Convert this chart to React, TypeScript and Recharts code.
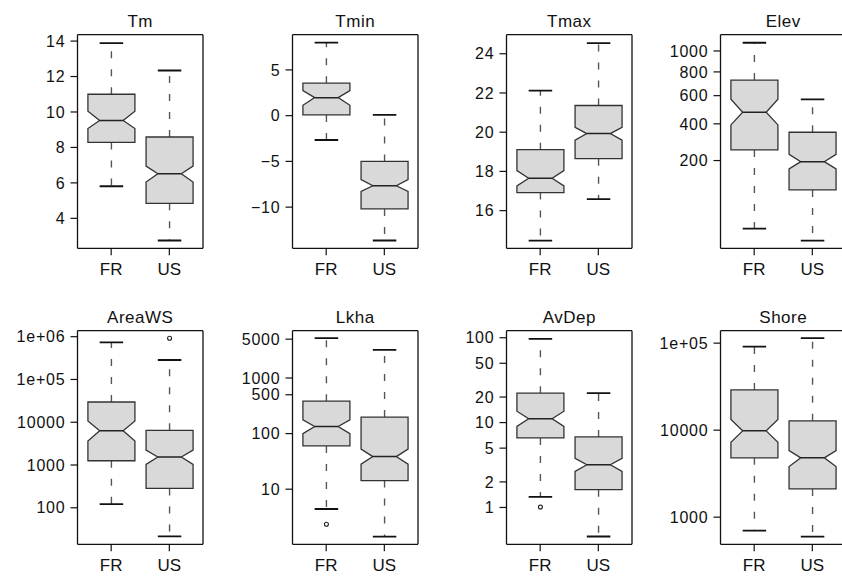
import { Bar, ComposedChart, XAxis, YAxis } from 'recharts'

const GROUPS = ['FR', 'US']

// box stats, in order: lower whisker, Q1, notch low, median, notch high, Q3, upper whisker
const tmFR = [5.81, 8.28, 9.07, 9.52, 10.04, 11.0, 13.89]
const tmUS = [2.75, 4.85, 6.05, 6.52, 6.95, 8.59, 12.34]
const tminFR = [-2.66, 0.08, 1.14, 1.97, 2.74, 3.55, 7.98]
const tminUS = [-13.65, -10.2, -8.28, -7.66, -7.0, -5.0, 0.08]
const tmaxFR = [14.47, 16.92, 17.26, 17.65, 18.04, 19.11, 22.12]
const tmaxUS = [16.59, 18.65, 19.59, 19.93, 20.25, 21.36, 24.54]
const elevFR = [10.8, 251, 393, 477, 572, 728, 1085]
const elevUS = [1.86, 89.3, 164, 195, 229, 348, 572]
const areaFR = [122, 1259, 3630, 6320, 10670, 29700, 740000]
const areaUS = [21.4, 284, 1035, 1535, 2240, 6460, 285000]
const lkhaFR = [4.4, 60, 100, 134, 177, 383, 5210]
const lkhaUS = [1.4, 14.3, 28.2, 38.6, 52.5, 198, 3210]
const avdepFR = [1.33, 6.6, 9.0, 11.1, 13.6, 22.2, 97]
const avdepUS = [0.455, 1.62, 2.66, 3.19, 3.79, 6.78, 22.2]
const shoreFR = [702, 4810, 7280, 9820, 13240, 29000, 91400]
const shoreUS = [598, 2110, 3820, 4810, 5830, 12790, 114000]

// outliers
const areaOutUS = [920000]
const lkhaOutFR = [2.34]
const avdepOutFR = [1.01]

// axis ranges and ticks
const tmDomain = [2.31, 14.36]
const tminDomain = [-14.5, 8.85]
const tmaxDomain = [14.08, 24.97]
const elevDomain = [0.02, 1171]
const areaDomain = [14, 1.38e6]
const lkhaDomain = [1.02, 7100]
const avdepDomain = [0.368, 121]
const shoreDomain = [488, 1.39e5]

const tmTicks = [4, 6, 8, 10, 12, 14]
const tminTicks = [-10, -5, 0, 5]
const tminLabels = ['\u221210', '\u22125', '0', '5']
const tmaxTicks = [16, 18, 20, 22, 24]
const elevTicks = [200, 400, 600, 800, 1000]
const areaTicks = [100, 1000, 10000, 100000, 1000000]
const areaLabels = ['100', '1000', '10000', '1e+05', '1e+06']
const lkhaTicks = [10, 100, 500, 1000, 5000]
const avdepTicks = [1, 2, 5, 10, 20, 50, 100]
const shoreTicks = [1000, 10000, 100000]
const shoreLabels = ['1000', '10000', '1e+05']

type Kind = 'linear' | 'sqrt' | 'log'
type Row = { group: string; stats: number[]; out: number[] }

const INK = '#111'
const FONT = '"Liberation Sans", Arial, Helvetica, sans-serif'

const transform = (kind: Kind) =>
  kind === 'log'
    ? (v: number) => Math.log10(v)
    : kind === 'sqrt'
      ? (v: number) => Math.sqrt(v)
      : (v: number) => v

const extent = (r: Row) => {
  const all = [...r.stats, ...r.out]
  return [Math.min(...all), Math.max(...all)]
}

const rows = (fr: number[], us: number[], outFR: number[] = [], outUS: number[] = []): Row[] => [
  { group: GROUPS[0], stats: fr, out: outFR },
  { group: GROUPS[1], stats: us, out: outUS },
]

// the bar spans the full extent; inner marks are placed along the same axis scale
function makeBox(kind: Kind) {
  const f = transform(kind)
  return (props: any) => {
    const { x, y, width, height, payload } = props
    const [lo, hi] = extent(payload)
    const py = (v: number) => y + ((f(hi) - f(v)) / (f(hi) - f(lo))) * height
    const [wlo, q1, nlo, med, nhi, q3, whi] = payload.stats.map(py)
    const cx = x + width / 2
    const x2 = x + width
    const nw = width / 4
    const pts = [
      [x, q1], [x2, q1], [x2, nlo], [cx + nw, med], [x2, nhi],
      [x2, q3], [x, q3], [x, nhi], [cx - nw, med], [x, nlo],
    ]
      .map((p) => p.join(','))
      .join(' ')
    return (
      <g>
        <line x1={cx} x2={cx} y1={q3} y2={whi} stroke="#555" strokeWidth={1.4} strokeDasharray="7 11" />
        <line x1={cx} x2={cx} y1={q1} y2={wlo} stroke="#555" strokeWidth={1.4} strokeDasharray="7 11" />
        <line x1={cx - nw} x2={cx + nw} y1={whi} y2={whi} stroke={INK} strokeWidth={1.8} />
        <line x1={cx - nw} x2={cx + nw} y1={wlo} y2={wlo} stroke={INK} strokeWidth={1.8} />
        <polygon points={pts} fill="#d9d9d9" stroke="#333" strokeWidth={1.3} />
        <line x1={cx - nw} x2={cx + nw} y1={med} y2={med} stroke="#222" strokeWidth={1.5} />
        {payload.out.map((v: number, i: number) => (
          <circle key={i} cx={cx} cy={py(v)} r={2} fill="none" stroke="#222" strokeWidth={1.1} />
        ))}
      </g>
    )
  }
}

interface PanelProps {
  title: string
  kind: Kind
  domain: number[]
  ticks: number[]
  labels?: string[]
  data: Row[]
  left: number
  top: number
}

function Panel({ title, kind, domain, ticks, labels, data, left, top }: PanelProps) {
  const fmt = (v: number) => {
    const i = ticks.indexOf(v)
    return labels && i >= 0 ? labels[i] : String(v)
  }
  return (
    <div style={{ position: 'absolute', left, top }}>
      <ComposedChart
        width={210}
        height={290}
        data={data}
        margin={{ top: 33.7, right: 6, bottom: 0, left: 0 }}
        barCategoryGap="10%"
      >
        <XAxis
          dataKey="group"
          type="category"
          height={41.7}
          padding={{ left: 4.6, right: 4.6 }}
          tickSize={7}
          tickMargin={8}
          tick={{ fontSize: 17, fill: INK }}
          tickLine={{ stroke: INK, strokeWidth: 1.2 }}
          axisLine={{ stroke: INK, strokeWidth: 1.3 }}
        />
        <XAxis
          xAxisId="top"
          orientation="top"
          dataKey="group"
          type="category"
          height={1}
          tick={false}
          tickLine={false}
          axisLine={{ stroke: INK, strokeWidth: 1.3 }}
          label={{ value: title, position: 'top', offset: 7, fontSize: 17, fill: INK, letterSpacing: 0.5 }}
        />
        <YAxis
          type="number"
          scale={kind}
          domain={domain}
          ticks={ticks}
          allowDataOverflow
          interval={0}
          width={77.5}
          tickSize={7}
          tickMargin={5}
          tickFormatter={fmt}
          tick={{ fontSize: 16, fill: INK, letterSpacing: 0.8 }}
          tickLine={{ stroke: INK, strokeWidth: 1.2 }}
          axisLine={{ stroke: INK, strokeWidth: 1.3 }}
        />
        <YAxis
          yAxisId="right"
          orientation="right"
          type="number"
          domain={[0, 1]}
          width={1}
          tick={false}
          tickLine={false}
          axisLine={{ stroke: INK, strokeWidth: 1.3 }}
        />
        <Bar dataKey={extent} shape={makeBox(kind)} isAnimationActive={false} />
      </ComposedChart>
    </div>
  )
}

const COLS = [0.3, 214.8, 428.8, 642.8]
const ROWS = [0, 296.3]

export default function App() {
  return (
    <div
      style={{
        position: 'absolute',
        left: 0,
        top: 0,
        width: 842,
        height: 577,
        overflow: 'hidden',
        background: '#fff',
        fontFamily: FONT,
      }}
    >
      <Panel title="Tm" kind="linear" domain={tmDomain} ticks={tmTicks} data={rows(tmFR, tmUS)} left={COLS[0]} top={ROWS[0]} />
      <Panel title="Tmin" kind="linear" domain={tminDomain} ticks={tminTicks} labels={tminLabels} data={rows(tminFR, tminUS)} left={COLS[1]} top={ROWS[0]} />
      <Panel title="Tmax" kind="linear" domain={tmaxDomain} ticks={tmaxTicks} data={rows(tmaxFR, tmaxUS)} left={COLS[2]} top={ROWS[0]} />
      <Panel title="Elev" kind="sqrt" domain={elevDomain} ticks={elevTicks} data={rows(elevFR, elevUS)} left={COLS[3]} top={ROWS[0]} />
      <Panel title="AreaWS" kind="log" domain={areaDomain} ticks={areaTicks} labels={areaLabels} data={rows(areaFR, areaUS, [], areaOutUS)} left={COLS[0]} top={ROWS[1]} />
      <Panel title="Lkha" kind="log" domain={lkhaDomain} ticks={lkhaTicks} data={rows(lkhaFR, lkhaUS, lkhaOutFR)} left={COLS[1]} top={ROWS[1]} />
      <Panel title="AvDep" kind="log" domain={avdepDomain} ticks={avdepTicks} data={rows(avdepFR, avdepUS, avdepOutFR)} left={COLS[2]} top={ROWS[1]} />
      <Panel title="Shore" kind="log" domain={shoreDomain} ticks={shoreTicks} labels={shoreLabels} data={rows(shoreFR, shoreUS)} left={COLS[3]} top={ROWS[1]} />
    </div>
  )
}
